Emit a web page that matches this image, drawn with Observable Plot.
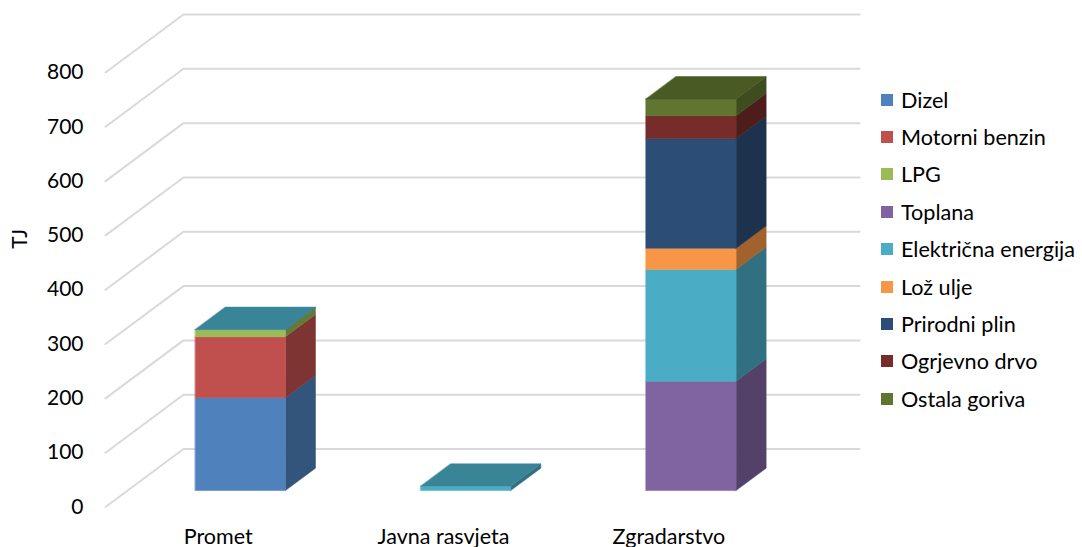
<!DOCTYPE html>
<html>
<head>
<meta charset="utf-8">
<script src="https://cdn.jsdelivr.net/npm/d3@7"></script>
<script src="https://cdn.jsdelivr.net/npm/@observablehq/plot@0.6"></script>
<style>
  body { margin: 0; background: #fff; font-family: Lato, "Open Sans", sans-serif; }
  #chart { position: relative; width: 1082px; height: 547px; overflow: hidden; }
  #legend { position: absolute; left: 881px; top: 81px; }
  .item { display: flex; align-items: center; height: 37.4px; font-size: 21.6px; color: #000; white-space: nowrap; }
  .sw { width: 12px; height: 12px; margin-right: 8px; flex: none; }
</style>
</head>
<body>
<div id="chart"><div id="legend"></div></div>
<script>
// Energy consumption by sector (TJ)
const categories = ["Promet", "Javna rasvjeta", "Zgradarstvo"];

const seriesNames = ["Dizel", "Motorni benzin", "LPG", "Toplana", "Električna energija",
                     "Lož ulje", "Prirodni plin", "Ogrjevno drvo", "Ostala goriva"];
const seriesColors = ["#4F81BD", "#C0504D", "#9BBB59", "#8064A2", "#4BACC6",
                      "#F79646", "#2C4D75", "#772C2A", "#5F7530"];

// values per sector: [Promet, Javna rasvjeta, Zgradarstvo]
const dizel         = [171, 0, 0];
const motorniBenzin = [112, 0, 0];
const lpg           = [13, 0, 0];
const toplana       = [0, 0, 201];
const elektricna    = [0.5, 8, 206];
const lozUlje       = [0, 0, 39];
const prirodniPlin  = [0, 0, 202];
const ogrjevnoDrvo  = [0, 0, 42];
const ostalaGoriva  = [0, 0, 31];

const yTicks = [0, 100, 200, 300, 400, 500, 600, 700, 800];

const seriesValues = [dizel, motorniBenzin, lpg, toplana, elektricna,
                      lozUlje, prirodniPlin, ogrjevnoDrvo, ostalaGoriva];

// Oblique 3-D projection: depth f in [0,1] shifts a point right (slot units)
// and up (value units) towards the back wall.
const DEPTH_X = 0.346;
const DEPTH_Y = 106.7;
const BAR_HALF = 0.2;          // half bar width, in slot units
const F0 = 0.284, F1 = 0.67;   // front and back depth of the bars
const proj = (s, v, f) => ({x: s + f * DEPTH_X, y: v + f * DEPTH_Y});

const shade = (c, k) => { const r = d3.rgb(c); return d3.rgb(r.r * k, r.g * k, r.b * k).formatHex(); };

// Gridlines: a diagonal on the left wall, then along the back wall
const gridPts = yTicks.flatMap(v => [
  {g: v, ...proj(0, v, 0)},
  {g: v, ...proj(0, v, 1)},
  {g: v, ...proj(categories.length, v, 1)}
]);

// Bar faces as closed polygons
const facePts = [];
let faceId = 0;
const addFace = (corners, fill) => {
  const id = faceId++;
  corners.forEach(([s, v, f]) => facePts.push({id, fill, ...proj(s, v, f)}));
};
categories.forEach((cat, i) => {
  const xl = i + 0.5 - BAR_HALF, xr = i + 0.5 + BAR_HALF;
  let base = 0, topColor = null;
  seriesValues.forEach((vals, k) => {
    const v = vals[i];
    if (!(v > 0)) return;
    const t = base + v, c = seriesColors[k];
    addFace([[xr, base, F0], [xr, base, F1], [xr, t, F1], [xr, t, F0]], shade(c, 0.65));
    addFace([[xl, base, F0], [xr, base, F0], [xr, t, F0], [xl, t, F0]], c);
    base = t; topColor = c;
  });
  if (topColor) addFace([[xl, base, F0], [xr, base, F0], [xr, base, F1], [xl, base, F1]], shade(topColor, 0.77));
});

const chart = Plot.plot({
  width: 1082,
  height: 547,
  marginLeft: 105,
  marginRight: 223,
  marginTop: 14,
  marginBottom: 40.5,
  x: {domain: [0, categories.length + DEPTH_X], axis: null},
  y: {domain: [0, 800 + DEPTH_Y], axis: null},
  color: {type: "identity"},
  style: {fontFamily: "Lato, 'Open Sans', sans-serif", fontSize: "21px", background: "#fff", color: "#000"},
  marks: [
    Plot.line(gridPts, {x: "x", y: "y", z: "g", stroke: "#d9d9d9", strokeWidth: 2}),
    Plot.axisY(yTicks, {tickSize: 0, tickPadding: 22, label: null, fontSize: 21, fill: "#000"}),
    Plot.line(facePts, {x: "x", y: "y", z: "id", fill: "fill", stroke: "fill", strokeWidth: 0.5, curve: "linear-closed"}),
    Plot.text(categories, {x: (d, i) => i + 0.5, y: 0, dy: 30.5, text: d => d, fontSize: 21.5, fill: "#000"}),
    Plot.text(["TJ"], {frameAnchor: "left", rotate: -90, dx: -85, dy: -12, text: d => d, fontSize: 21, fill: "#000"})
  ]
});

const host = document.getElementById("chart");
host.insertBefore(chart, host.firstChild);

const legend = document.getElementById("legend");
seriesNames.forEach((name, k) => {
  const row = document.createElement("div");
  row.className = "item";
  const sw = document.createElement("span");
  sw.className = "sw";
  sw.style.background = seriesColors[k];
  const label = document.createElement("span");
  label.textContent = name;
  row.append(sw, label);
  legend.append(row);
});
</script>
</body>
</html>
